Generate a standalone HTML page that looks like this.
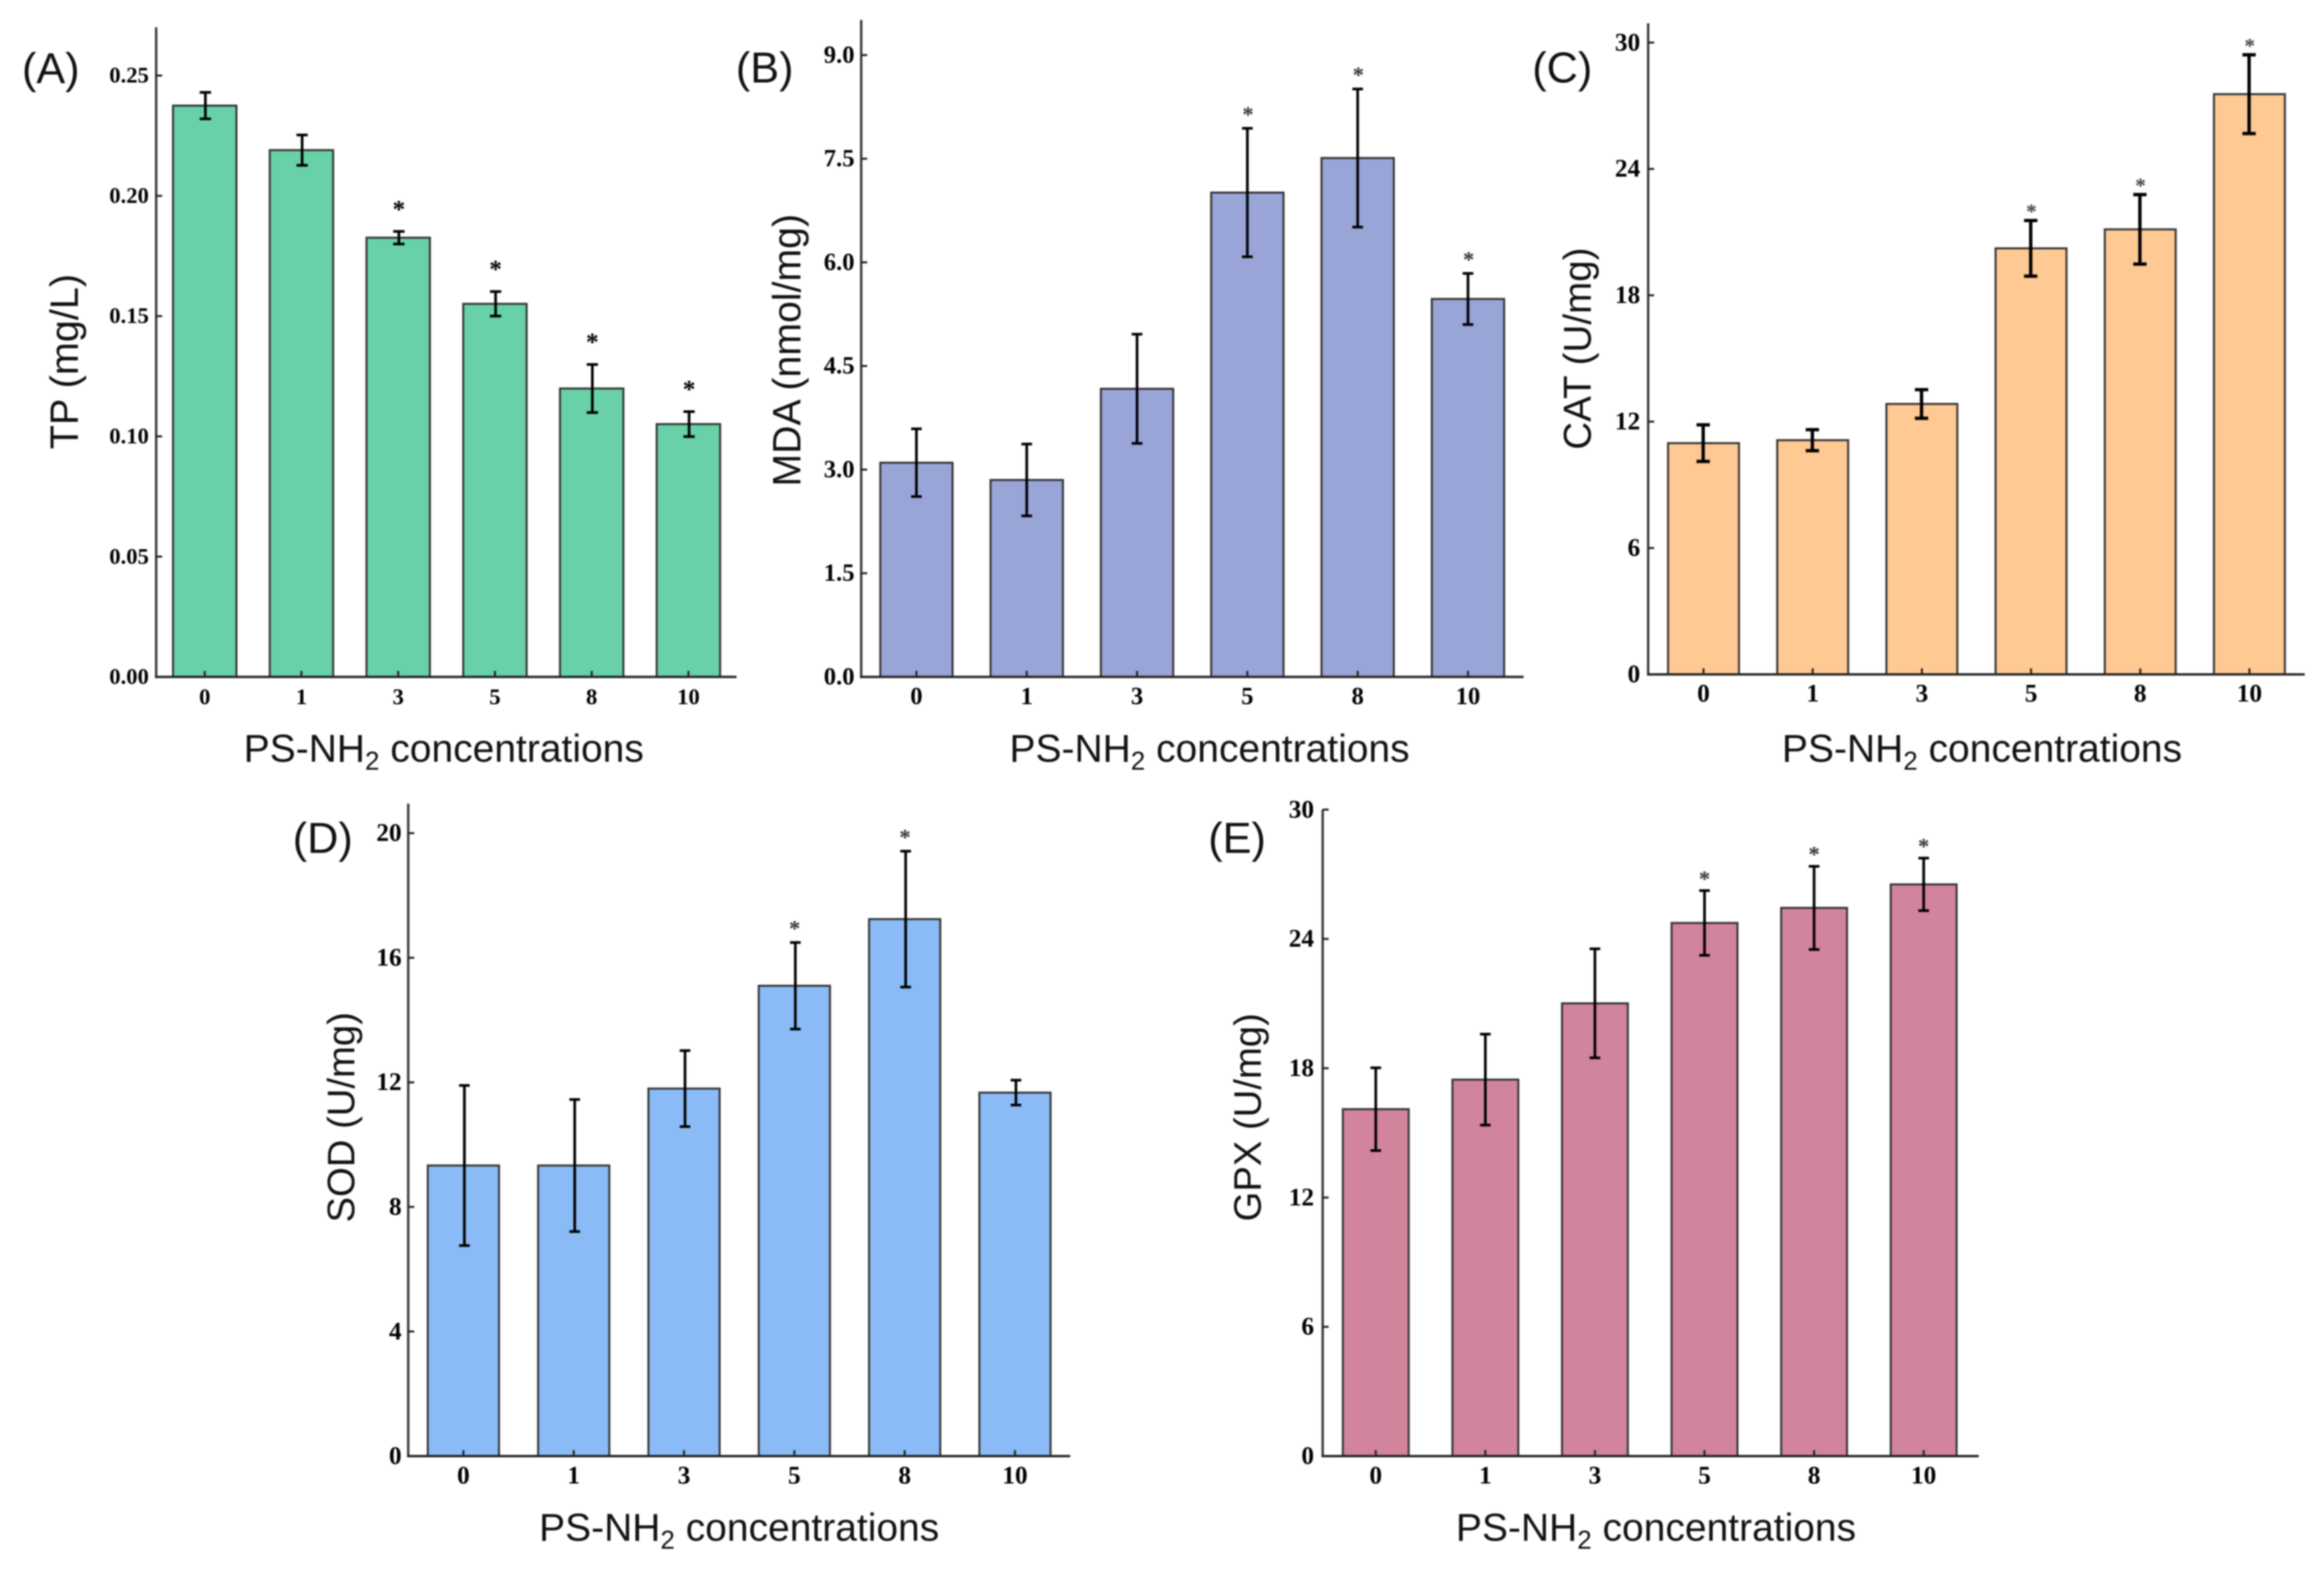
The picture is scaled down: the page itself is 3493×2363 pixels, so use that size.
<!DOCTYPE html>
<html lang="en">
<head>
<meta charset="utf-8">
<title>PS-NH2 concentration effects on TP, MDA, CAT, SOD and GPX</title>
<style>
  html, body { margin: 0; padding: 0; background: #fff; }
  svg { display: block; filter: blur(1px); }
  .panel-letter, .axis-title { font-family: "Liberation Sans", sans-serif; fill: #111; }
  .panel-letter { font-size: 65px; }
  .axis-title { font-size: 58.6px; }
  .tick-label, .star { font-family: "Liberation Serif", serif; font-weight: bold; fill: #000; }
</style>
</head>
<body>
<svg id="figure" xmlns="http://www.w3.org/2000/svg" width="3493" height="2363" viewBox="0 0 3493 2363">
  <rect x="0" y="0" width="3493" height="2363" fill="#ffffff"/>

  <g id="panel-a">
    <text class="panel-letter" x="33" y="125">(A)</text>
    <text class="axis-title" style="font-size:59.5px" transform="translate(117 543.5) rotate(-90)" text-anchor="middle">TP (mg/L)</text>
    <text class="axis-title" x="667" y="1145" text-anchor="middle">PS-NH<tspan dy="12" font-size="39">2</tspan><tspan dy="-12"> concentrations</tspan></text>
  </g>
  <g id="panel-b">
    <text class="panel-letter" x="1106" y="124">(B)</text>
    <text class="axis-title" style="font-size:59px" transform="translate(1203 526.5) rotate(-90)" text-anchor="middle">MDA (nmol/mg)</text>
    <text class="axis-title" x="1818" y="1145" text-anchor="middle">PS-NH<tspan dy="12" font-size="39">2</tspan><tspan dy="-12"> concentrations</tspan></text>
  </g>
  <g id="panel-c">
    <text class="panel-letter" x="2303" y="124">(C)</text>
    <text class="axis-title" style="font-size:58px" transform="translate(2391 524) rotate(-90)" text-anchor="middle">CAT (U/mg)</text>
    <text class="axis-title" x="2979" y="1145" text-anchor="middle">PS-NH<tspan dy="12" font-size="39">2</tspan><tspan dy="-12"> concentrations</tspan></text>
  </g>
  <g id="panel-d">
    <text class="panel-letter" x="440" y="1282">(D)</text>
    <text class="axis-title" style="font-size:57.5px" transform="translate(532.5 1679.5) rotate(-90)" text-anchor="middle">SOD (U/mg)</text>
    <text class="axis-title" x="1111" y="2316" text-anchor="middle">PS-NH<tspan dy="12" font-size="39">2</tspan><tspan dy="-12"> concentrations</tspan></text>
  </g>
  <g id="panel-e">
    <text class="panel-letter" x="1816" y="1282">(E)</text>
    <text class="axis-title" style="font-size:57.5px" transform="translate(1895 1679.5) rotate(-90)" text-anchor="middle">GPX (U/mg)</text>
    <text class="axis-title" x="2489" y="2316" text-anchor="middle">PS-NH<tspan dy="12" font-size="39">2</tspan><tspan dy="-12"> concentrations</tspan></text>
  </g>
</svg>

<script>
// Shared categories
const categories = ['0', '1', '3', '5', '8', '10'];

// TP (mg/L)
const tpValues = [0.2375, 0.219, 0.1826, 0.1551, 0.1199, 0.1051];
const tpErrors = [0.0055, 0.0063, 0.0026, 0.0051, 0.0100, 0.0052];
const tpSignificant = [false, false, true, true, true, true];
const tpTicks = [0, 0.05, 0.10, 0.15, 0.20, 0.25];
const tpTickLabels = ['0.00', '0.05', '0.10', '0.15', '0.20', '0.25'];

// MDA (nmol/mg)
const mdaValues = [3.10, 2.85, 4.17, 7.01, 7.51, 5.47];
const mdaErrors = [0.49, 0.52, 0.79, 0.93, 1.00, 0.37];
const mdaSignificant = [false, false, false, true, true, true];
const mdaTicks = [0, 1.5, 3, 4.5, 6, 7.5, 9];
const mdaTickLabels = ['0.0', '1.5', '3.0', '4.5', '6.0', '7.5', '9.0'];

// CAT (U/mg)
const catValues = [10.98, 11.12, 12.84, 20.23, 21.13, 27.55];
const catErrors = [0.87, 0.50, 0.68, 1.32, 1.65, 1.87];
const catSignificant = [false, false, false, true, true, true];
const catTicks = [0, 6, 12, 18, 24, 30];
const catTickLabels = ['0', '6', '12', '18', '24', '30'];

// SOD (U/mg)
const sodValues = [9.33, 9.33, 11.80, 15.10, 17.24, 11.67];
const sodErrors = [2.57, 2.12, 1.22, 1.39, 2.18, 0.40];
const sodSignificant = [false, false, false, true, true, false];
const sodTicks = [0, 4, 8, 12, 16, 20];
const sodTickLabels = ['0', '4', '8', '12', '16', '20'];

// GPX (U/mg)
const gpxValues = [16.10, 17.47, 21.01, 24.74, 25.44, 26.53];
const gpxErrors = [1.92, 2.11, 2.53, 1.50, 1.93, 1.22];
const gpxSignificant = [false, false, false, true, true, true];
const gpxTicks = [0, 6, 12, 18, 24, 30];
const gpxTickLabels = ['0', '6', '12', '18', '24', '30'];

const SVG_NS = 'http://www.w3.org/2000/svg';

function make(parent, tag, geometry) {
  const node = document.createElementNS(SVG_NS, tag);
  for (const key in geometry) node.setAttribute(key, geometry[key]);
  parent.appendChild(node);
  return node;
}

function drawPanel(p) {
  const root = document.getElementById(p.id);
  const yScale = v => p.zeroY - (v / p.refValue) * (p.zeroY - p.refY);
  const xScale = i => p.firstX + i * p.stepX;

  p.values.forEach((value, i) => {
    const top = yScale(value);
    const cx = xScale(i);

    const bar = make(root, 'rect', {
      x: cx - p.barWidth / 2, y: top, width: p.barWidth, height: p.zeroY - top,
      fill: p.fill, stroke: '#333', 'stroke-width': 3
    });
    
    

    const ex = cx + p.errShift;
    const upper = yScale(value + p.errors[i]);
    const lower = yScale(value - p.errors[i]);
    const errGroup = make(root, 'g', { stroke: '#000', 'stroke-width': p.errStroke, fill: 'none' });
    
    
    make(errGroup, 'line', { x1: ex, x2: ex, y1: upper, y2: lower });
    make(errGroup, 'line', { x1: ex - p.capHalf, x2: ex + p.capHalf, y1: upper, y2: upper });
    make(errGroup, 'line', { x1: ex - p.capHalf, x2: ex + p.capHalf, y1: lower, y2: lower });

    if (p.significant[i]) {
      const star = make(root, 'text', {
        class: 'star', x: ex + p.starShift, y: upper - p.starGap + p.starSize * 0.47,
        'text-anchor': 'middle', 'font-size': p.starSize, fill: p.starFill
      });
      star.style.fill = p.starFill;
      
      
      star.textContent = '*';
    }
  });

  const yAxis = make(root, 'line', {
    x1: p.axisX, x2: p.axisX, y1: p.axisTop, y2: p.zeroY + 1.7, stroke: '#333', 'stroke-width': 3.5
  });
  
  

  const xAxis = make(root, 'line', {
    x1: p.axisX - 1.7, x2: p.axisRight, y1: p.zeroY, y2: p.zeroY, stroke: '#222', 'stroke-width': 3.5
  });
  
  

  p.ticks.forEach((tick, i) => {
    const y = yScale(tick);
    const mark = make(root, 'line', {
      x1: p.axisX, x2: p.axisX + 9, y1: y, y2: y, stroke: '#222', 'stroke-width': 3
    });
    
    

    const label = make(root, 'text', {
      class: 'tick-label', x: p.axisX - p.labelGap, y: y + p.fontSize * 0.31,
      'text-anchor': 'end', 'font-size': p.fontSize
    });
    
    
    label.textContent = p.tickLabels[i];
  });

  categories.forEach((category, i) => {
    const cx = xScale(i);
    const mark = make(root, 'line', {
      x1: cx, x2: cx, y1: p.zeroY, y2: p.zeroY - 9, stroke: '#222', 'stroke-width': 3
    });
    
    

    const label = make(root, 'text', {
      class: 'tick-label', x: cx, y: p.zeroY + 41,
      'text-anchor': 'middle', 'font-size': p.fontSize
    });
    
    
    label.textContent = category;
  });
}

drawPanel({
  id: 'panel-a', key: 'tp', values: tpValues, errors: tpErrors, significant: tpSignificant,
  ticks: tpTicks, tickLabels: tpTickLabels, refValue: 0.25, refY: 113.6, zeroY: 1017.5,
  axisX: 234.7, axisTop: 41, axisRight: 1107, firstX: 307.7, stepX: 145.4, barWidth: 95.3,
  fill: '#68D1A8', fontSize: 34, labelGap: 11, errShift: 1, errStroke: 4, capHalf: 8.5,
  starShift: 0, starGap: 39, starSize: 38, starFill: '#000'
});
drawPanel({
  id: 'panel-b', key: 'mda', values: mdaValues, errors: mdaErrors, significant: mdaSignificant,
  ticks: mdaTicks, tickLabels: mdaTickLabels, refValue: 9, refY: 82.8, zeroY: 1017.5,
  axisX: 1294.4, axisTop: 30, axisRight: 2290, firstX: 1377.4, stepX: 165.8, barWidth: 108.7,
  fill: '#99A4D7', fontSize: 37, labelGap: 10, errShift: 0, errStroke: 4, capHalf: 8,
  starShift: 1, starGap: 26, starSize: 34, starFill: '#333'
});
drawPanel({
  id: 'panel-c', key: 'cat', values: catValues, errors: catErrors, significant: catSignificant,
  ticks: catTicks, tickLabels: catTickLabels, refValue: 30, refY: 64, zeroY: 1013.7,
  axisX: 2477.2, axisTop: 35, axisRight: 3464, firstX: 2560.4, stepX: 164.1, barWidth: 106.6,
  fill: '#FEC993', fontSize: 38, labelGap: 12, errShift: -0.5, errStroke: 5, capHalf: 10,
  starShift: 1, starGap: 18, starSize: 32, starFill: '#444'
});
drawPanel({
  id: 'panel-d', key: 'sod', values: sodValues, errors: sodErrors, significant: sodSignificant,
  ticks: sodTicks, tickLabels: sodTickLabels, refValue: 20, refY: 1252.4, zeroY: 2188.8,
  axisX: 613.6, axisTop: 1208, axisRight: 1608.5, firstX: 696.5, stepX: 165.8, barWidth: 107,
  fill: '#8ABBF6', fontSize: 38, labelGap: 10, errShift: 1.5, errStroke: 4, capHalf: 8,
  starShift: -1, starGap: 26, starSize: 34, starFill: '#333'
});
drawPanel({
  id: 'panel-e', key: 'gpx', values: gpxValues, errors: gpxErrors, significant: gpxSignificant,
  ticks: gpxTicks, tickLabels: gpxTickLabels, refValue: 30, refY: 1217, zeroY: 2188.8,
  axisX: 1988, axisTop: 1217, axisRight: 2974, firstX: 2067.8, stepX: 164.7, barWidth: 99,
  fill: '#D2849C', fontSize: 38, labelGap: 13, errShift: 0, errStroke: 4, capHalf: 8,
  starShift: 0, starGap: 23, starSize: 34, starFill: '#333'
});
</script>
</body>
</html>
